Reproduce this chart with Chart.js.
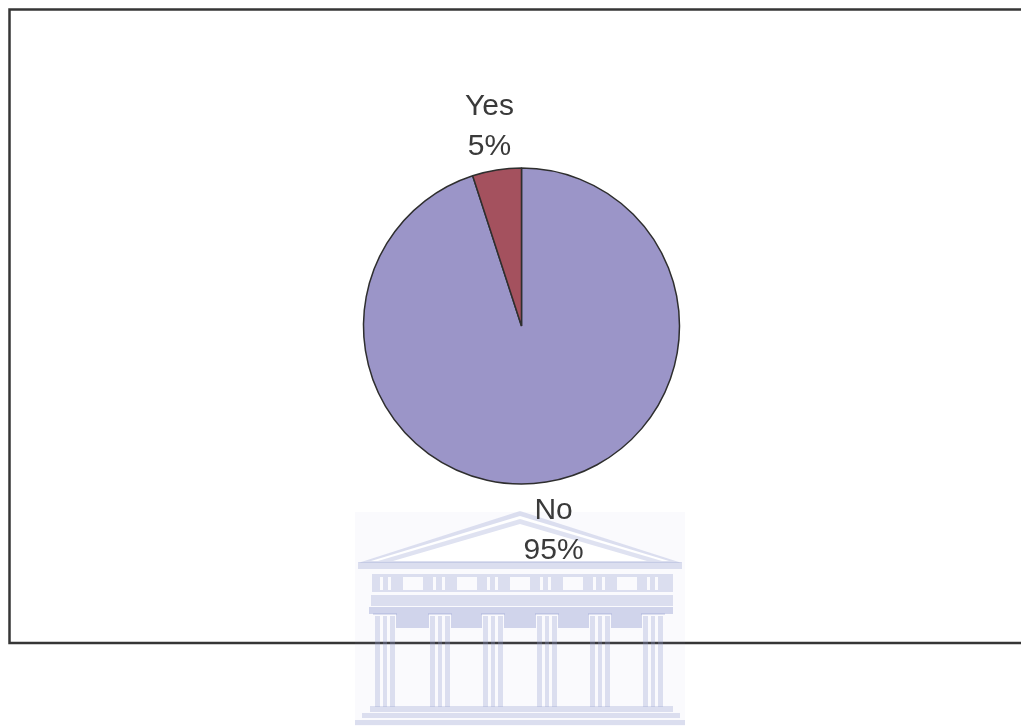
<!DOCTYPE html>
<html>
<head>
<meta charset="utf-8">
<title>Yes / No</title>
<script src="https://cdn.jsdelivr.net/npm/chart.js@4/dist/chart.umd.min.js"></script>
<style>
  html, body { margin: 0; padding: 0; background: #ffffff; }
  #wrap { width: 1021px; height: 726px; position: relative; }
</style>
</head>
<body>
<div id="wrap"><canvas id="c" width="1021" height="726"></canvas></div>
<script>
// Answers and their shares (percent)
const categories = ['No', 'Yes'];
const shares = [95, 5];
const sliceColors = ['#9b95c8', '#a4515e'];

// Thin frame around the plot area (open on the right side)
const framePlugin = {
  id: 'frame',
  beforeDraw(chart) {
    const ctx = chart.ctx;
    ctx.save();
    ctx.strokeStyle = '#363636';
    ctx.lineWidth = 2.5;
    ctx.beginPath();
    ctx.moveTo(1030, 9.5);
    ctx.lineTo(9.5, 9.5);
    ctx.lineTo(9.5, 643);
    ctx.lineTo(1030, 643);
    ctx.stroke();
    ctx.restore();
  }
};

// Faint building emblem drawn behind the pie, over the frame
const emblemPlugin = {
  id: 'emblem',
  beforeDatasetsDraw(chart) {
    const ctx = chart.ctx;
    const pale = 'rgba(150,160,210,0.30)';
    const deep = 'rgba(150,160,210,0.42)';
    ctx.save();
    // soft backdrop
    ctx.fillStyle = 'rgba(150,160,210,0.05)';
    ctx.fillRect(355, 512, 330, 214);

    const tri = (a, b, c, col) => {
      ctx.fillStyle = col;
      ctx.beginPath();
      ctx.moveTo(a[0], a[1]); ctx.lineTo(b[0], b[1]); ctx.lineTo(c[0], c[1]);
      ctx.closePath(); ctx.fill();
    };
    // pediment
    tri([358, 563], [520, 511], [682, 563], pale);
    tri([371, 561], [520, 516], [669, 561], '#ffffff');
    tri([378, 561], [520, 519], [662, 561], pale);
    tri([393, 561], [520, 524], [647, 561], '#ffffff');

    ctx.fillStyle = pale;
    // cornice
    ctx.fillRect(358, 562, 324, 7);
    // frieze with metopes and triglyph slits left open
    ctx.beginPath();
    ctx.rect(372, 574, 301, 18);
    const metopes = [403, 457, 510, 563, 617];
    metopes.forEach(x => ctx.rect(x + 20, 577, -20, 13));
    const slits = [380, 388, 433, 442, 487, 495, 540, 548, 593, 602, 647, 655];
    slits.forEach(x => ctx.rect(x + 3, 577, -3, 13));
    ctx.fill('evenodd');
    // architrave bands
    ctx.fillRect(371, 595, 302, 11);
    ctx.fillStyle = deep;
    ctx.fillRect(369, 607, 304, 7);

    // columns
    const cols = [375, 430, 483, 537, 590, 643];
    cols.forEach((x, i) => {
      ctx.fillStyle = deep;
      if (i < cols.length - 1) ctx.fillRect(x + 21, 614, cols[i + 1] - x - 22, 14);
      ctx.fillStyle = pale;
      ctx.fillRect(x - 2, 613, 24, 2);
      ctx.fillRect(x, 616, 5, 91);
      ctx.fillRect(x + 8, 616, 4, 91);
      ctx.fillRect(x + 15, 616, 5, 91);
    });
    // steps
    ctx.fillStyle = pale;
    ctx.fillRect(370, 706, 303, 6);
    ctx.fillRect(362, 713, 318, 5);
    ctx.fillRect(355, 720, 330, 5);
    ctx.restore();
  }
};

// Category name and percentage placed outside each slice
const outsideLabels = {
  id: 'outsideLabels',
  afterDatasetsDraw(chart) {
    const ctx = chart.ctx;
    const meta = chart.getDatasetMeta(0);
    const data = chart.data.datasets[0].data;
    const total = data.reduce((a, b) => a + b, 0);
    ctx.save();
    ctx.font = '30px "Liberation Sans", Arial, sans-serif';
    ctx.fillStyle = '#3a3a3a';
    ctx.textAlign = 'center';
    ctx.textBaseline = 'alphabetic';
    meta.data.forEach((arc, i) => {
      const p = arc.getProps(['x', 'y', 'startAngle', 'endAngle', 'outerRadius'], true);
      const mid = (p.startAngle + p.endAngle) / 2;
      const r = p.outerRadius + 47;
      const cx = p.x + Math.cos(mid) * r;
      const cy = p.y + Math.sin(mid) * r;
      const pct = Math.round(data[i] / total * 100) + '%';
      ctx.fillText(chart.data.labels[i], cx, cy - 20 + 11);
      ctx.fillText(pct, cx, cy + 20 + 11);
    });
    ctx.restore();
  }
};

new Chart(document.getElementById('c'), {
  type: 'pie',
  data: {
    labels: categories,
    datasets: [{
      data: shares,
      backgroundColor: sliceColors,
      borderColor: '#2e2e2e',
      borderWidth: 1.5,
      hoverOffset: 0
    }]
  },
  options: {
    responsive: false,
    animation: false,
    layout: { padding: { top: 167.25, bottom: 241.25, left: 22, right: 0 } },
    plugins: {
      legend: { display: false },
      tooltip: { enabled: false }
    }
  },
  plugins: [framePlugin, emblemPlugin, outsideLabels]
});
</script>
</body>
</html>
